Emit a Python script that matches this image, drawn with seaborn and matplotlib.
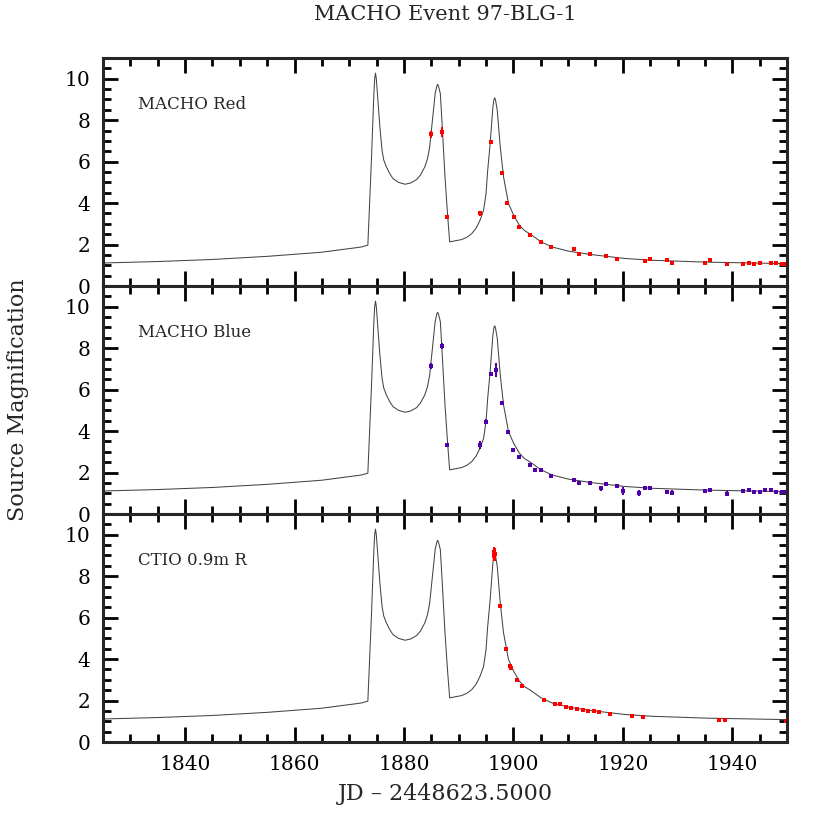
import numpy as np
import pandas as pd
import matplotlib
matplotlib.use("Agg")
import matplotlib.pyplot as plt
import seaborn as sns
from matplotlib.ticker import MultipleLocator

# ---------------- data ----------------
curve_x = [1825, 1835, 1845, 1855, 1865, 1872.2, 1873.4, 1874.05, 1874.5, 1874.65, 1874.8,
           1874.95, 1875.15, 1875.6, 1876.0, 1876.3, 1876.8, 1877.4, 1878.0, 1879.0, 1880.2,
           1881.2, 1882.3, 1883.0, 1883.8, 1884.3, 1884.7, 1885.2, 1885.7, 1886.0, 1886.15,
           1886.3, 1886.65, 1887.0, 1887.5, 1888.0, 1888.35, 1890.55, 1891.5, 1892.4, 1893.2,
           1893.9, 1894.55, 1895.0, 1895.3, 1895.75, 1896.25, 1896.45, 1896.6, 1896.75, 1897.05,
           1897.6, 1898.2, 1899.1, 1900.05, 1901.1, 1902.0, 1903.1, 1905.05, 1907.1, 1910.1,
           1914.1, 1920.3, 1925.4, 1935.5, 1950]
curve_y = [1.11, 1.18, 1.28, 1.43, 1.63, 1.88, 1.97, 6.06, 9.28, 10.0, 10.27,
           10.0, 9.28, 7.67, 6.54, 6.08, 5.74, 5.42, 5.18, 5.0, 4.91,
           4.97, 5.13, 5.35, 5.74, 6.14, 6.70, 7.99, 9.28, 9.65, 9.73,
           9.65, 9.28, 7.67, 5.26, 3.33, 2.13, 2.24, 2.35, 2.53, 2.80,
           3.17, 3.65, 4.46, 5.58, 6.87, 8.63, 9.0, 9.08, 8.95, 8.47,
           6.70, 5.26, 3.98, 3.41, 2.93, 2.68, 2.50, 2.13, 1.88, 1.68,
           1.52, 1.33, 1.24, 1.15, 1.08]

red_x = [1884.9, 1886.95, 1887.9, 1893.9, 1895.95, 1898.0, 1898.9, 1900.05, 1901.1, 1903.0,
         1905.0, 1906.95, 1911.0, 1912.0, 1914.05, 1917.0, 1919.0, 1924.0, 1925.0, 1928.0,
         1929.0, 1935.0, 1936.0, 1939.05, 1942.05, 1943.0, 1944.0, 1945.0, 1947.0, 1948.0,
         1949.0, 1949.8]
red_y = [7.32, 7.43, 3.33, 3.52, 6.93, 5.47, 4.02, 3.32, 2.85, 2.48,
         2.11, 1.90, 1.77, 1.52, 1.55, 1.45, 1.31, 1.23, 1.31, 1.26,
         1.11, 1.11, 1.24, 1.04, 1.08, 1.10, 1.08, 1.10, 1.13, 1.13,
         1.08, 1.08]
red_err = [0.17, 0.22, 0.08, 0.12, 0.1, 0.1, 0.08, 0.08, 0.07, 0.06,
           0.06, 0.07, 0.05, 0.08, 0.06, 0.05, 0.07, 0.06, 0.06, 0.05,
           0.09, 0.06, 0.05, 0.08, 0.05, 0.05, 0.05, 0.05, 0.05, 0.05,
           0.05, 0.05]

blue_x = [1884.9, 1886.95, 1887.9, 1893.9, 1894.95, 1895.95, 1896.9, 1897.95, 1898.95, 1899.95,
          1900.95, 1902.95, 1903.95, 1905.0, 1906.95, 1911.0, 1912.0, 1914.05, 1916.05, 1917.0,
          1919.0, 1920.0, 1923.0, 1924.0, 1925.0, 1928.0, 1929.0, 1935.0, 1936.0, 1939.05,
          1942.05, 1943.0, 1944.0, 1945.0, 1946.0, 1947.0, 1948.0, 1949.0, 1949.8]
blue_y = [7.14, 8.12, 3.35, 3.32, 4.46, 6.77, 6.95, 5.36, 3.98, 3.11,
          2.76, 2.38, 2.11, 2.13, 1.82, 1.64, 1.51, 1.51, 1.24, 1.45,
          1.34, 1.11, 1.03, 1.24, 1.27, 1.05, 1.03, 1.11, 1.14, 0.98,
          1.13, 1.14, 1.05, 1.08, 1.16, 1.16, 1.06, 1.05, 1.08]
blue_err = [0.15, 0.15, 0.06, 0.2, 0.1, 0.1, 0.35, 0.1, 0.07, 0.08,
            0.07, 0.06, 0.1, 0.05, 0.07, 0.05, 0.1, 0.05, 0.12, 0.05,
            0.06, 0.2, 0.15, 0.08, 0.06, 0.06, 0.12, 0.05, 0.05, 0.12,
            0.05, 0.08, 0.08, 0.05, 0.05, 0.05, 0.05, 0.05, 0.05]

ctio_x = [1896.4, 1896.5, 1896.6, 1897.6, 1898.6, 1899.45, 1899.6, 1900.6, 1901.55, 1905.55,
          1907.55, 1908.55, 1909.6, 1910.55, 1911.6, 1912.7, 1913.6, 1914.65, 1915.6, 1917.65,
          1921.6, 1923.7, 1937.65, 1938.7, 1949.9]
ctio_y = [9.15, 8.95, 9.05, 6.58, 4.49, 3.65, 3.55, 3.01, 2.72, 2.03,
          1.84, 1.84, 1.69, 1.65, 1.58, 1.56, 1.50, 1.48, 1.43, 1.36,
          1.27, 1.23, 1.08, 1.08, 1.0]
ctio_err = [0.25, 0.2, 0.3, 0.06, 0.06, 0.06, 0.06, 0.04, 0.04, 0.03,
            0.03, 0.05, 0.03, 0.03, 0.03, 0.03, 0.03, 0.03, 0.03, 0.03,
            0.03, 0.03, 0.03, 0.03, 0.03]

panel_labels = ["MACHO Red", "MACHO Blue", "CTIO 0.9m R"]
panel_colors = ["#FF0000", "#5000A8", "#FF0000"]
title = "MACHO Event 97-BLG-1"
xlabel = "JD \u2013 2448623.5000"
ylabel = "Source Magnification"

# ---------------- styling ----------------
sns.set_style("ticks")
plt.rcParams["font.family"] = ["DejaVu Serif"]

fig = plt.figure(figsize=(8.3, 8.3), dpi=100)
left, right = 103 / 830, 787 / 830
bottom, top = 1 - 742 / 830, 1 - 58 / 830
ph = (top - bottom) / 3

curve_df = pd.DataFrame({"x": curve_x, "y": curve_y})
datasets = [(red_x, red_y, red_err), (blue_x, blue_y, blue_err), (ctio_x, ctio_y, ctio_err)]

axes = []
for i in range(3):
    ax = fig.add_axes([left, top - (i + 1) * ph, right - left, ph])
    axes.append(ax)
    sns.lineplot(data=curve_df, x="x", y="y", ax=ax, sort=False, color="#444444",
                 linewidth=0.75, estimator=None)
    dx, dy, de = datasets[i]
    ms = 3.5 if i == 2 else 2.5
    ax.errorbar(dx, dy, yerr=de, fmt="s", color=panel_colors[i], ms=ms,
                elinewidth=1.5, capsize=2.4, capthick=1.5, mew=0)
    ax.set_xlim(1825, 1950)
    ax.set_ylim(0, 11)
    ax.xaxis.set_major_locator(MultipleLocator(20))
    ax.xaxis.set_minor_locator(MultipleLocator(5))
    ax.yaxis.set_major_locator(MultipleLocator(2))
    ax.yaxis.set_minor_locator(MultipleLocator(0.5))
    ax.tick_params(which="both", direction="in", top=True, right=True,
                   labelsize=14.5, width=2, pad=9, colors="black")
    ax.tick_params(which="major", length=11)
    ax.tick_params(which="minor", length=5.5)
    for s in ax.spines.values():
        s.set_linewidth(2.2)
        s.set_visible(True)
    ax.set_xlabel("")
    ax.set_ylabel("")
    if i < 2:
        ax.tick_params(labelbottom=False)
    ax.text(0.051, 0.798, panel_labels[i], transform=ax.transAxes, fontsize=12,
            ha="left", va="center")

axes[2].set_xlabel(xlabel, fontsize=16, labelpad=7)
fig.text(0.022, (top + bottom) / 2, ylabel, rotation=90, fontsize=16,
         ha="center", va="center")
fig.text((left + right) / 2, 1 - 15 / 830, title, fontsize=15, ha="center", va="center")

fig.savefig("out.png", dpi=100)
